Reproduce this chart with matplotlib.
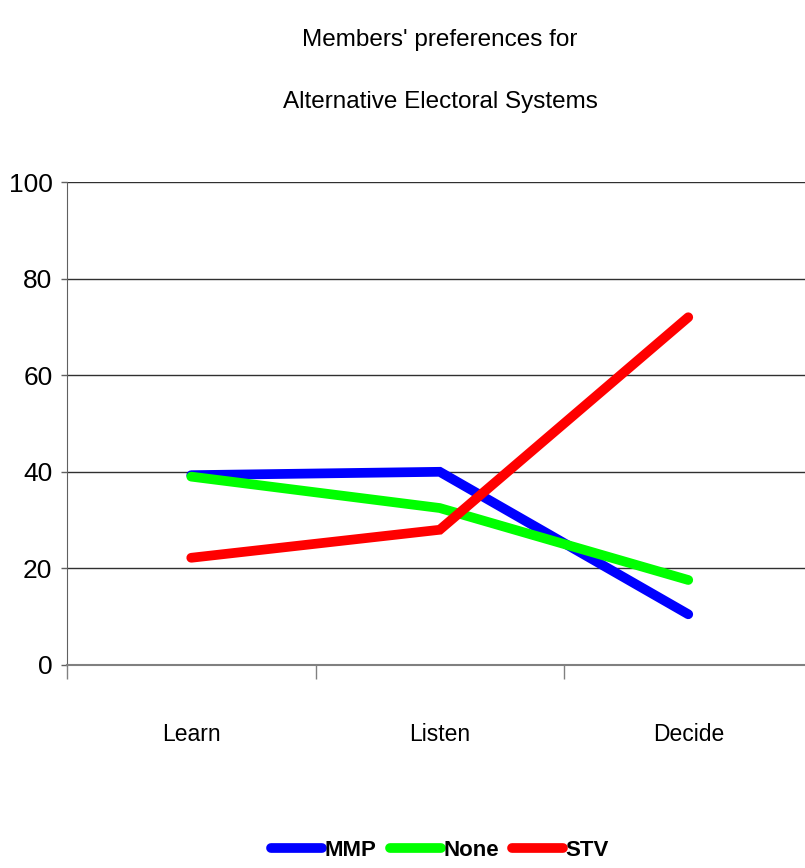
import matplotlib
matplotlib.use("Agg")
import matplotlib.pyplot as plt
from matplotlib import font_manager

categories = ["Learn", "Listen", "Decide"]
mmp = [39.3, 40.0, 10.5]
none = [39.0, 32.5, 17.6]
stv = [22.2, 28.0, 72.0]
series_names = ["MMP", "None", "STV"]
colors = ["#0000ff", "#00ff00", "#ff0000"]
yticks = [0, 20, 40, 60, 80, 100]

names = {f.name for f in font_manager.fontManager.ttflist}
fam = "Liberation Sans Narrow" if "Liberation Sans Narrow" in names else "Liberation Sans"
plt.rcParams['font.family'] = [fam, 'DejaVu Sans']

fig = plt.figure(figsize=(8.05, 8.68), dpi=100)
ax = fig.add_axes([67/805, (868-665)/868, 745.5/805, 483/868])

x = list(range(len(categories)))
for vals, name, c in zip([mmp, none, stv], series_names, colors):
    ax.plot(x, vals, color=c, lw=7, solid_capstyle='round', solid_joinstyle='miter', label=name, zorder=3)

ax.set_xlim(-0.5, 2.5)
ax.set_ylim(0, 100)
ax.set_yticks(yticks)
ax.set_yticklabels([str(t) for t in yticks], fontsize=19)
ax.set_xticks([-0.5, 0.5, 1.5, 2.5])
ax.set_xticklabels([])
ax.set_xticks(x, minor=True)
ax.set_xticklabels(categories, minor=True, fontsize=16.5)
ax.tick_params(axis='x', which='minor', length=0, pad=42)
ax.tick_params(axis='x', which='major', length=10, width=1, color='#808080')
ax.tick_params(axis='y', length=4.5, width=1, color='#606060', pad=6)
ax.yaxis.grid(True, color='#303030', lw=1)
ax.set_axisbelow(True)
for s in ['top', 'right']:
    ax.spines[s].set_visible(False)
ax.spines['left'].set_color('#606060')
ax.spines['bottom'].set_color('#808080')
ax.spines['bottom'].set_linewidth(1.5)

fig.text(440/805, 1 - 40/868, "Members' preferences for", ha='center', va='center', fontsize=17.5)
fig.text(440/805, 1 - 102/868, "Alternative Electoral Systems", ha='center', va='center', fontsize=17.5)

leg = fig.legend(loc='center', bbox_to_anchor=(440/805, 1 - 850/868), ncol=3, frameon=False,
                 prop={'weight': 'bold', 'size': 16}, handlelength=2.3, handletextpad=0.1,
                 columnspacing=0.6)

fig.savefig("out.png", dpi=100)
